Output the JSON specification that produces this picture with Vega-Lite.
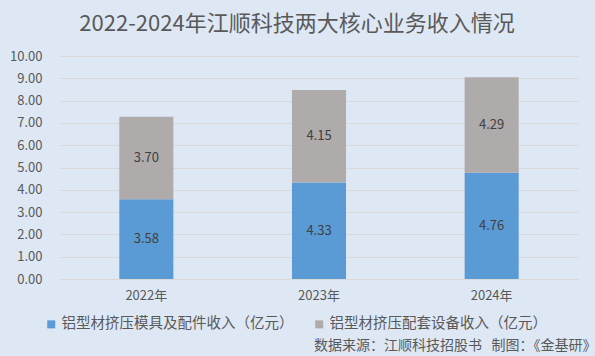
{
  "$schema": "https://vega.github.io/schema/vega-lite/v6.json",
  "width": 518,
  "height": 223,
  "autosize": {"type": "none"},
  "padding": {"left": 60, "top": 56, "right": 17, "bottom": 77},
  "background": "#dee8f5",
  "config": {
    "font": "Noto Sans CJK SC",
    "view": {"stroke": null},
    "axisY": {
      "labelOverlap": false,
      "labelFontSize": 13,
      "labelColor": "#595959",
      "labelPadding": 18,
      "ticks": false,
      "domain": false,
      "gridColor": "#d9d9d9",
      "gridWidth": 1
    }
  },
  "title": {
    "text": "2022-2024年江顺科技两大核心业务收入情况",
    "fontSize": 22,
    "fontWeight": "normal",
    "color": "#595959",
    "anchor": "middle",
    "frame": "group",
    "dx": -22,
    "offset": 14
  },
  "data": {
    "values": [
      {"year": "2022年", "series": "铝型材挤压模具及配件收入（亿元）", "idx": 1, "value": 3.58},
      {"year": "2022年", "series": "铝型材挤压配套设备收入（亿元）", "idx": 2, "value": 3.70},
      {"year": "2023年", "series": "铝型材挤压模具及配件收入（亿元）", "idx": 1, "value": 4.33},
      {"year": "2023年", "series": "铝型材挤压配套设备收入（亿元）", "idx": 2, "value": 4.15},
      {"year": "2024年", "series": "铝型材挤压模具及配件收入（亿元）", "idx": 1, "value": 4.76},
      {"year": "2024年", "series": "铝型材挤压配套设备收入（亿元）", "idx": 2, "value": 4.29}
    ]
  },
  "transform": [
    {"stack": "value", "groupby": ["year"], "sort": [{"field": "idx", "order": "ascending"}], "as": ["v0", "v1"]},
    {"calculate": "(datum.v0 + datum.v1) / 2", "as": "mid"}
  ],
  "encoding": {
    "x": {
      "field": "year",
      "type": "nominal",
      "scale": {"paddingInner": 0.687, "paddingOuter": 0.3435},
      "axis": {
        "labelAngle": 0,
        "labelFontSize": 13,
        "labelColor": "#595959",
        "labelPadding": 10,
        "ticks": false,
        "domain": false,
        "title": "数据来源：江顺科技招股书\u00a0\u00a0\u00a0制图：《金基研》",
        "titleFontSize": 14,
        "titleFontWeight": "normal",
        "titleColor": "#595959",
        "titleAnchor": "end",
        "titleAlign": "right",
        "titleBaseline": "middle",
        "titleX": 536,
        "titleY": 66
      }
    }
  },
  "layer": [
    {
      "mark": {"type": "bar"},
      "encoding": {
        "y": {
          "field": "v0",
          "type": "quantitative",
          "scale": {"domain": [0, 10]},
          "axis": {
            "values": [0, 1, 2, 3, 4, 5, 6, 7, 8, 9, 10],
            "format": ".2f",
            "title": null
          }
        },
        "y2": {"field": "v1"},
        "color": {
          "field": "series",
          "type": "nominal",
          "sort": ["铝型材挤压模具及配件收入（亿元）", "铝型材挤压配套设备收入（亿元）"],
          "scale": {
            "domain": ["铝型材挤压模具及配件收入（亿元）", "铝型材挤压配套设备收入（亿元）"],
            "range": ["#5b9bd5", "#afabab"]
          },
          "legend": {
            "orient": "none",
            "direction": "horizontal",
            "legendX": -16,
            "legendY": 261,
            "title": null,
            "symbolType": "square",
            "symbolSize": 64,
            "symbolStrokeWidth": 0,
            "labelFontSize": 14.5,
            "labelColor": "#595959",
            "labelOffset": 3,
            "labelLimit": 300,
            "columnPadding": 18
          }
        }
      }
    },
    {
      "mark": {"type": "text", "fontSize": 13, "color": "#404040"},
      "encoding": {
        "y": {
          "field": "mid",
          "type": "quantitative",
          "axis": {
            "values": [0, 1, 2, 3, 4, 5, 6, 7, 8, 9, 10],
            "format": ".2f",
            "title": null
          }
        },
        "text": {"field": "value", "type": "quantitative", "format": ".2f"}
      }
    }
  ]
}
